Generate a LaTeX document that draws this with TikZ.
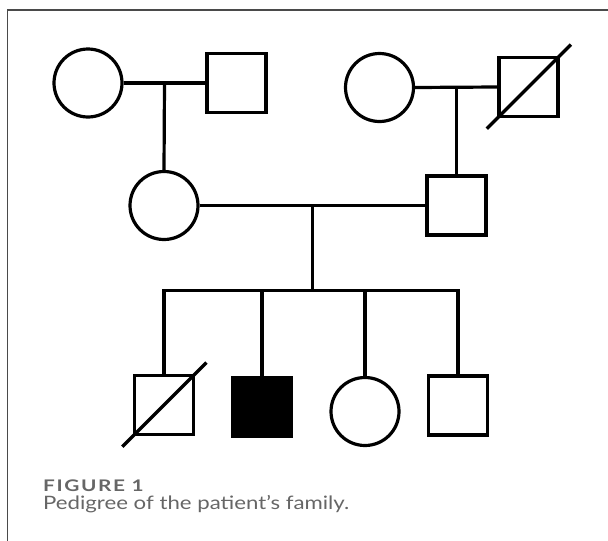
\documentclass[tikz,border=0pt]{standalone}
\usepackage{fontspec}
\setmainfont{Lato}
\newfontfamily\capfont[FakeStretch=1.2]{Lato}
\newfontfamily\captitlefont[FakeStretch=1.3,LetterSpace=10]{Lato}
\usetikzlibrary{calc}
\definecolor{capgray}{HTML}{666666}
\definecolor{framegray}{HTML}{4A4A4A}
\tikzset{
  lw/.style={line width=3.2pt},
  female/.style={draw, circle, lw, minimum size=68pt, inner sep=0pt},
  male/.style={draw, rectangle, lw, minimum size=59pt, inner sep=0pt},
  affected/.style={male, fill=black},
  conn/.style={lw},
  slash/.style={lw, shorten <=-15pt, shorten >=-16pt},
  captitle/.style={anchor=base west, inner sep=0pt, text=capgray, font=\captitlefont\fontsize{16}{18}\selectfont\bfseries},
  captext/.style={anchor=base west, inner sep=0pt, text=capgray, font=\capfont\fontsize{18.5}{21}\selectfont}
}
\begin{document}
\begin{tikzpicture}[x=1pt,y=-1pt]
\useasboundingbox (0,0) rectangle (608,541);
\draw[framegray, line width=1.3pt] (7.5,541) -- (7.5,10) -- (608,10);

% generation I
\node[female] (f1) at (88,83) {};
\node[male] (m1) at (236.5,83) {};
\node[female] (f2) at (379.5,87.5) {};
\node[male] (m2) at (528.5,87) {};
% generation II
\node[female] (mo) at (164,205.5) {};
\node[male] (fa) at (456.5,205.5) {};
% generation III
\node[male] (c1) at (164,405) {};
\node[affected] (c2) at (262,407) {};
\node[female] (c3) at (365,411.5) {};
\node[male] (c4) at (458,405.5) {};

% deceased slashes
\draw[slash] (m2.south west) -- (m2.north east);
\draw[slash] (c1.south west) -- (c1.north east);

% couples
\draw[conn] (f1.east) -- (m1.west);
\draw[conn] (f2.east) -- (m2.west);
\draw[conn] (mo.east) -- (fa.west);
\coordinate (d1) at ($(f1.east)!0.5!(m1.west)$);
\coordinate (d2) at ($(f2.east)!0.5!(m2.west)$);
\coordinate (d3) at ($(mo.east)!0.5!(fa.west)$);
\draw[conn] (d1) -- (mo.north);
\draw[conn] (d2) -- (d2 |- fa.north);
\coordinate (sib) at ($(d3)+(0,85)$);
\draw[conn] (d3) -- (sib);
\draw[conn] (c1.north) |- (sib) -| (c4.north);
\draw[conn] (c2.north) -- (c2.north |- sib);
\draw[conn] (c3.north) -- (c3.north |- sib);

% caption
\node[captitle] (t1) at (43,491) {FIGURE 1};
\node[captext] (t2) at (43,509) {Pedigree of the patient’s family.};
\end{tikzpicture}
\end{document}
